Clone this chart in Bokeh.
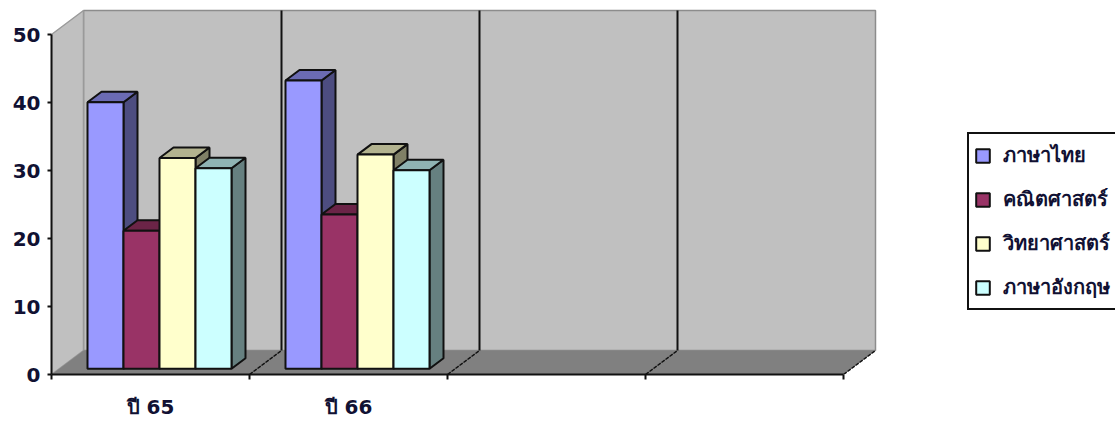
from bokeh.plotting import figure
from bokeh.models import Range1d, FixedTicker, Legend, LegendItem
from bokeh.embed import file_html
from bokeh.resources import INLINE

categories = ["ปี 65", "ปี 66", "", ""]
series_names = ["ภาษาไทย", "คณิตศาสตร์", "วิทยาศาสตร์", "ภาษาอังกฤษ"]
thai = [39.2, 42.4]
math = [20.3, 22.7]
science = [31.0, 31.5]
english = [29.5, 29.2]
y_ticks = [0, 10, 20, 30, 40, 50]

front_colors = ["#9999FF", "#993366", "#FFFFCC", "#CCFFFF"]
top_colors = ["#6B6BB3", "#6B2447", "#B3B38F", "#8FB3B3"]
side_colors = ["#4D4D80", "#4D1A33", "#808066", "#668080"]

# pixel scale of the plot frame
PX_X = 198.0   # px per category
PX_Y = 6.8     # px per value unit
FRAME_W, FRAME_H = 1064, 366
WALL_DX, WALL_DY = 32 / PX_X, 24 / PX_Y
BAR_DX, BAR_DY = 14 / PX_X, 10.5 / PX_Y
BAR_BASE_DX, BAR_BASE_DY = 9 / PX_X, 5.7 / PX_Y
BAR_W = 36 / PX_X
BAR_START = 27 / PX_X

n = len(categories)
ymax = y_ticks[-1]

p = figure(width=1115, height=421, output_backend="svg", toolbar_location=None,
           x_range=Range1d(0, FRAME_W / PX_X), y_range=Range1d(0, FRAME_H / PX_Y),
           min_border_left=51, min_border_right=0, min_border_top=8, min_border_bottom=47)
p.outline_line_color = None
p.grid.visible = False
p.background_fill_color = "white"
p.border_fill_color = "white"

# walls and floor
p.quad(left=[WALL_DX], right=[n + WALL_DX], bottom=[WALL_DY], top=[ymax + WALL_DY],
       fill_color="#C0C0C0", line_color="#8C8C8C", line_width=1.5)
p.patch([0, WALL_DX, WALL_DX, 0], [0, WALL_DY, ymax + WALL_DY, ymax],
        fill_color="#C0C0C0", line_color="#9A9A9A", line_width=1.5)
p.patch([0, n, n + WALL_DX, WALL_DX], [0, 0, WALL_DY, WALL_DY],
        fill_color="#808080", line_color=None)
# category grid lines
for k in range(1, n):
    p.line([k + WALL_DX, k + WALL_DX], [WALL_DY, ymax + WALL_DY], line_color="#111111", line_width=2)
for k in range(1, n + 1):
    p.line([k, k + WALL_DX], [0, WALL_DY], line_color="#111111", line_width=1.5, line_dash="4 1")

# bars
items = []
for s, values in enumerate([thai, math, science, english]):
    L, R, B, T = [], [], [], []
    for c, v in enumerate(values):
        l = c + BAR_START + BAR_BASE_DX + s * BAR_W
        L.append(l); R.append(l + BAR_W); B.append(BAR_BASE_DY); T.append(v + BAR_BASE_DY)
    side_x = [[r, r + BAR_DX, r + BAR_DX, r] for r in R]
    side_y = [[b, b + BAR_DY, t + BAR_DY, t] for b, t in zip(B, T)]
    top_x = [[l, r, r + BAR_DX, l + BAR_DX] for l, r in zip(L, R)]
    top_y = [[t, t, t + BAR_DY, t + BAR_DY] for t in T]
    p.patches(side_x, side_y, fill_color=side_colors[s], line_color="#111111", line_width=2)
    p.patches(top_x, top_y, fill_color=top_colors[s], line_color="#111111", line_width=2)
    r = p.quad(left=L, right=R, bottom=B, top=T,
               fill_color=front_colors[s], line_color="#111111", line_width=2)
    items.append(LegendItem(label=series_names[s], renderers=[r]))

# axes
p.yaxis.ticker = FixedTicker(ticks=y_ticks)
p.yaxis.bounds = (0, ymax)
p.yaxis.axis_line_color = "#111111"
p.yaxis.axis_line_width = 2
p.yaxis.major_tick_line_color = "#111111"
p.yaxis.major_tick_line_width = 2
p.yaxis.major_tick_out = 4
p.yaxis.major_tick_in = 0
p.yaxis.minor_tick_line_color = None
p.yaxis.major_label_standoff = 7
p.yaxis.major_label_text_font = "DejaVu Sans"
p.yaxis.major_label_text_font_style = "bold"
p.yaxis.major_label_text_font_size = "20px"
p.yaxis.major_label_text_color = "#111133"

p.xaxis.ticker = FixedTicker(ticks=[c + 0.5 for c in range(n)], minor_ticks=list(range(n + 1)))
p.xaxis.major_label_overrides = {c + 0.5: categories[c] for c in range(n)}
p.xaxis.bounds = (0, n)
p.xaxis.axis_line_color = "#111111"
p.xaxis.axis_line_width = 2
p.xaxis.major_tick_line_color = None
p.xaxis.major_tick_out = 0
p.xaxis.major_tick_in = 0
p.xaxis.minor_tick_line_color = "#111111"
p.xaxis.minor_tick_line_width = 2
p.xaxis.minor_tick_out = 5
p.xaxis.minor_tick_in = 0
p.xaxis.major_label_standoff = 15
p.xaxis.major_label_text_font = "DejaVu Sans"
p.xaxis.major_label_text_font_style = "bold"
p.xaxis.major_label_text_font_size = "20px"
p.xaxis.major_label_text_color = "#111133"

legend = Legend(items=items, location=(916, 64), orientation="vertical",
                padding=5, spacing=12, margin=0,
                glyph_width=17, glyph_height=17, label_standoff=12, label_height=16,
                label_text_font="Noto Sans", label_text_font_style="bold",
                label_text_font_size="20px", label_text_color="#111133",
                border_line_color="#111111", border_line_alpha=1.0, border_line_width=2,
                background_fill_color="white", background_fill_alpha=1.0)
p.add_layout(legend, "center")

open("out.html", "w").write(file_html(p, INLINE))
